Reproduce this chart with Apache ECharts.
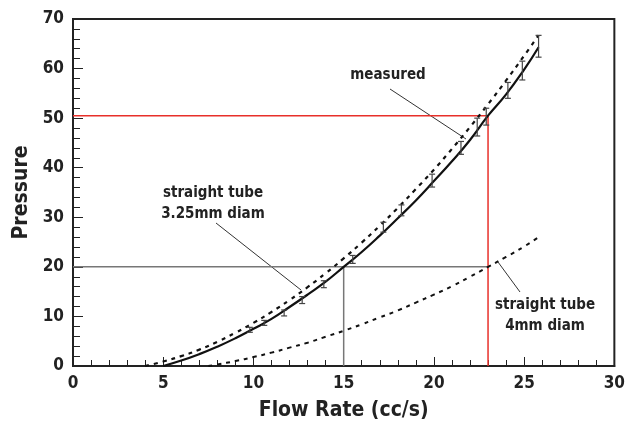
<!DOCTYPE html>
<html>
<head>
<meta charset="utf-8">
<script src="https://cdn.jsdelivr.net/npm/echarts@6/dist/echarts.min.js"></script>
<style>
  html, body { margin: 0; padding: 0; background: #fff; }
  #chart { width: 628px; height: 429px; }
</style>
</head>
<body>
<div id="chart"></div>
<script>
// fitted curve through the measurements (solid)
var measuredX = [5, 6, 7, 8, 9, 10, 11, 12, 13, 14, 15, 16, 17, 18, 19, 20, 21, 22, 23, 24, 25, 25.8];
var measuredY = [0, 1.1, 2.4, 3.9, 5.6, 7.5, 9.5, 11.9, 14.4, 17.0, 20.0, 23.0, 26.3, 29.8, 33.4, 37.3, 41.3, 45.6, 50.5, 54.8, 59.8, 64.3];

// straight tube 3.25mm (dashed)
var tube325X = [4, 5, 6, 7, 8, 9, 10, 11, 12, 13, 14, 15, 16, 17, 18, 19, 20, 21, 22, 23, 24, 25, 25.8];
var tube325Y = [0, 0.9, 2.0, 3.3, 4.9, 6.7, 8.7, 10.9, 13.3, 15.9, 18.7, 21.7, 24.9, 28.3, 31.9, 35.7, 39.6, 43.8, 48.2, 52.8, 57.6, 62.6, 66.7];

// straight tube 4mm (dashed)
var tube4X = [7.5, 8, 9, 10, 11, 12, 13, 14, 15, 16, 17, 18, 19, 20, 21, 22, 23, 24, 25, 25.8];
var tube4Y = [0, 0.3, 1.0, 1.8, 2.7, 3.7, 4.7, 5.9, 7.1, 8.4, 9.8, 11.2, 12.8, 14.4, 16.1, 18.0, 20.0, 22.0, 24.1, 26.0];

// measured points with error (+/-)
var errX = [9.8, 10.6, 11.7, 12.7, 13.9, 15.5, 17.2, 18.2, 19.9, 21.5, 22.4, 22.9, 24.1, 24.9, 25.8];
var errY = [7.3, 8.7, 10.7, 13.3, 16.5, 21.5, 28.0, 31.4, 37.4, 44.0, 48.2, 50.3, 55.6, 59.6, 64.5];
var errD = [0.5, 0.5, 0.6, 0.7, 0.7, 0.8, 1.0, 1.1, 1.3, 1.3, 1.8, 1.7, 1.6, 1.9, 2.2];

// guide lines
var redGuide = [[0, 50.5], [23, 50.5], [23, 0]];
var grayGuideH = [[0, 20], [23, 20]];
var grayGuideV = [[15, 20], [15, 0]];

var xTicks = [0, 5, 10, 15, 20, 25, 30];
var yTicks = [0, 10, 20, 30, 40, 50, 60, 70];

var FONT = "'Liberation Sans Narrow', 'DejaVu Sans Condensed', 'Roboto', sans-serif";

function zip(xs, ys) {
  var out = [];
  for (var i = 0; i < xs.length; i++) out.push([xs[i], ys[i]]);
  return out;
}

var errData = [];
for (var i = 0; i < errX.length; i++) errData.push([errX[i], errY[i] - errD[i], errY[i] + errD[i]]);

var chart = echarts.init(document.getElementById('chart'));

var option = {
  animation: false,
  backgroundColor: '#fff',
  grid: {
    left: 73, right: 12, top: 19, bottom: 63,
    show: true, borderColor: '#222', borderWidth: 2, backgroundColor: 'transparent'
  },
  xAxis: {
    type: 'value',
    min: xTicks[0], max: xTicks[xTicks.length - 1], interval: 5,
    name: 'Flow Rate (cc/s)',
    nameLocation: 'middle',
    nameGap: 34,
    nameTextStyle: { fontFamily: FONT, fontWeight: 'bold', fontSize: 21, color: '#222' },
    axisLine: { show: true, lineStyle: { color: '#222', width: 2 } },
    axisTick: { show: true, inside: true, length: 9, lineStyle: { color: '#222', width: 1 } },
    minorTick: { show: true, splitNumber: 5, length: 6, lineStyle: { color: '#222', width: 1 } },
    axisLabel: { fontFamily: FONT, fontWeight: 'bold', fontSize: 17, color: '#222', margin: 9 },
    splitLine: { show: false }
  },
  yAxis: {
    type: 'value',
    min: yTicks[0], max: yTicks[yTicks.length - 1], interval: 10,
    name: 'Pressure',
    nameLocation: 'middle',
    nameGap: 40,
    nameTextStyle: { fontFamily: FONT, fontWeight: 'bold', fontSize: 21, color: '#222' },
    axisLine: { show: true, lineStyle: { color: '#222', width: 2 } },
    axisTick: { show: true, inside: true, length: 10, lineStyle: { color: '#222', width: 1 } },
    minorTick: { show: true, splitNumber: 5, length: 7, lineStyle: { color: '#222', width: 1 } },
    axisLabel: { fontFamily: FONT, fontWeight: 'bold', fontSize: 17, color: '#222', margin: 9 },
    splitLine: { show: false }
  },
  series: [
    {
      name: 'red guide', type: 'line', data: redGuide, symbol: 'none', silent: true,
      lineStyle: { color: '#e8302a', width: 1.5 }, z: 1
    },
    {
      name: 'gray guide h', type: 'line', data: grayGuideH, symbol: 'none', silent: true,
      lineStyle: { color: '#777', width: 1.5 }, z: 1
    },
    {
      name: 'gray guide v', type: 'line', data: grayGuideV, symbol: 'none', silent: true,
      lineStyle: { color: '#777', width: 1.5 }, z: 1
    },
    {
      name: 'straight tube 4mm', type: 'line', data: zip(tube4X, tube4Y), symbol: 'none', smooth: true,
      lineStyle: { color: '#111', width: 2, type: [4, 5] }, z: 3
    },
    {
      name: 'straight tube 3.25mm', type: 'line', data: zip(tube325X, tube325Y), symbol: 'none', smooth: true,
      lineStyle: { color: '#111', width: 2.2, type: [4, 5] }, z: 3
    },
    {
      name: 'measured', type: 'line', data: zip(measuredX, measuredY), symbol: 'none', smooth: true,
      lineStyle: { color: '#111', width: 2.2 }, z: 4
    },
    {
      name: 'error', type: 'custom', z: 5,
      data: errData,
      renderItem: function (params, api) {
        var x = api.value(0);
        var lo = api.coord([x, api.value(1)]);
        var hi = api.coord([x, api.value(2)]);
        var c = 3;
        var st = { stroke: '#444', lineWidth: 1.2 };
        return {
          type: 'group',
          children: [
            { type: 'line', shape: { x1: lo[0], y1: lo[1], x2: hi[0], y2: hi[1] }, style: st },
            { type: 'line', shape: { x1: lo[0] - c, y1: lo[1], x2: lo[0] + c, y2: lo[1] }, style: st },
            { type: 'line', shape: { x1: hi[0] - c, y1: hi[1], x2: hi[0] + c, y2: hi[1] }, style: st }
          ]
        };
      }
    }
  ],
  graphic: [
    { type: 'text', x: 388, y: 68, style: { text: 'measured', font: 'bold 15px ' + FONT, fill: '#222', textAlign: 'center' } },
    { type: 'line', shape: { x1: 390, y1: 89, x2: 466, y2: 139 }, style: { stroke: '#333', lineWidth: 1 } },
    { type: 'text', x: 213, y: 183, style: { text: 'straight tube\n3.25mm diam', font: 'bold 15px ' + FONT, fill: '#222', textAlign: 'center', lineHeight: 21 } },
    { type: 'line', shape: { x1: 216, y1: 223, x2: 301, y2: 290 }, style: { stroke: '#333', lineWidth: 1 } },
    { type: 'text', x: 545, y: 295, style: { text: 'straight tube\n4mm diam', font: 'bold 15px ' + FONT, fill: '#222', textAlign: 'center', lineHeight: 21 } },
    { type: 'line', shape: { x1: 520, y1: 292, x2: 498, y2: 262 }, style: { stroke: '#333', lineWidth: 1 } }
  ]
};

chart.setOption(option);
</script>
</body>
</html>
